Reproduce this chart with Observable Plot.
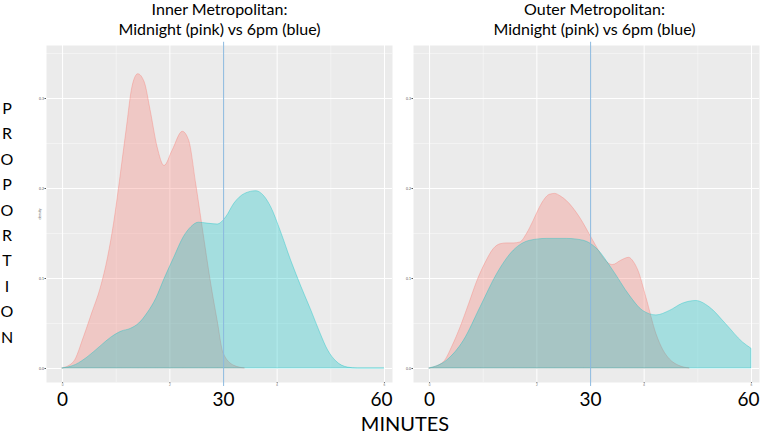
<!DOCTYPE html>
<html><head><meta charset="utf-8">
<script src="https://cdn.jsdelivr.net/npm/d3@7"></script>
<script src="https://cdn.jsdelivr.net/npm/@observablehq/plot@0.6"></script>
<style>
html,body{margin:0;padding:0;background:#fff;}
#wrap{position:relative;width:761px;height:434px;overflow:hidden;font-family:Lato,"Open Sans",sans-serif;}
#ylab{position:absolute;left:0;top:95px;width:14px;text-align:center;font-size:16px;line-height:25.4px;color:#000;}
#xlab{position:absolute;left:305px;top:412px;width:200px;text-align:center;font-size:20px;line-height:22px;color:#000;}
</style></head><body>
<div id="wrap"><div id="chart"></div><div id="ylab"></div><div id="xlab"></div></div>
<script>
// ---- data (minutes, density) ----
const panels = ["Inner Metropolitan", "Outer Metropolitan"];
const panelTitles = ["Inner Metropolitan:\nMidnight (pink) vs 6pm (blue)", "Outer Metropolitan:\nMidnight (pink) vs 6pm (blue)"];
const seriesNames = ["Midnight", "6pm"];
const seriesColors = ["#F8766D", "#00BFC4"];
const markerColor = "#8ab8de";

const innerMidnightMin = [0, 2.1, 4, 5.5, 7.1, 8.5, 9.6, 10.8, 12, 13, 14.1, 15.3, 16.4, 17.7, 19, 20.5, 22.4, 23.6, 24.9, 26.1, 27.7, 28.9, 30, 32, 34];
const innerMidnightDen = [0, 0.007, 0.035, 0.061, 0.089, 0.124, 0.161, 0.213, 0.268, 0.312, 0.327, 0.318, 0.287, 0.246, 0.225, 0.242, 0.263, 0.253, 0.205, 0.157, 0.094, 0.053, 0.017, 0.003, 0];

const innerEveningMin = [0, 2.5, 4.6, 7, 9, 11, 12.7, 14.3, 15.8, 17.5, 18.9, 20.8, 22.6, 24, 25.4, 27, 28.9, 30.5, 32, 34, 36.1, 37.5, 38.9, 40.7, 42.6, 44.5, 46.4, 48, 49.5, 51, 53.2, 55, 60];
const innerEveningDen = [0, 0.004, 0.012, 0.024, 0.034, 0.041, 0.044, 0.05, 0.061, 0.078, 0.098, 0.123, 0.146, 0.157, 0.162, 0.161, 0.16, 0.168, 0.183, 0.194, 0.197, 0.192, 0.179, 0.152, 0.12, 0.091, 0.064, 0.04, 0.02, 0.008, 0.001, 0, 0];

const outerMidnightMin = [0, 2.65, 4.3, 5.8, 7.4, 8.9, 10.5, 12, 13.2, 14.4, 15.7, 16.9, 18.2, 19.4, 20.5, 21.5, 22.4, 23.4, 24.5, 25.6, 28, 30.5, 32.4, 33.3, 34.2, 35.8, 37.2, 38.1, 38.9, 40.4, 42.3, 43.6, 44.8, 46.5, 48.5];
const outerMidnightDen = [0, 0.007, 0.025, 0.046, 0.072, 0.097, 0.118, 0.133, 0.138, 0.139, 0.139, 0.14, 0.15, 0.164, 0.178, 0.188, 0.193, 0.194, 0.191, 0.186, 0.168, 0.142, 0.123, 0.117, 0.115, 0.12, 0.123, 0.118, 0.109, 0.079, 0.038, 0.02, 0.01, 0.003, 0];

const outerEveningMin = [0, 3.3, 6.4, 9.5, 12.6, 15.7, 18.8, 21.9, 25.6, 28.7, 31.2, 34.2, 37.3, 39.8, 42.3, 44.8, 47.2, 49.7, 52.2, 55.3, 58.4, 60];
const outerEveningDen = [0, 0.009, 0.031, 0.068, 0.105, 0.131, 0.142, 0.144, 0.144, 0.142, 0.133, 0.109, 0.081, 0.064, 0.059, 0.064, 0.072, 0.075, 0.068, 0.049, 0.029, 0.022];

const markerMinute = [30];
const markerTop = 0.3625;
const markerBottom = -0.02;
const bigTicks = [0, 60];
const smallTicks = [0, 20, 40, 60];
const smallTickLabels = ["0", "2", "4", "6"];
const densityTicks = [0, 0.1, 0.2, 0.3];
const densityMinor = [0.05, 0.15, 0.25, 0.35];
const minuteMinor = [10, 30, 50];
const yAxisTitle = "PROPORTION";
const xAxisTitle = "MINUTES";

// ---- build table ----
function rows(panel, series, mins, dens) {
  const color = seriesColors[seriesNames.indexOf(series)];
  return mins.map((m, i) => ({panel, series, color, minute: m, density: dens[i]}));
}
const data = [
  ...rows(panels[0], seriesNames[0], innerMidnightMin, innerMidnightDen),
  ...rows(panels[0], seriesNames[1], innerEveningMin, innerEveningDen),
  ...rows(panels[1], seriesNames[0], outerMidnightMin, outerMidnightDen),
  ...rows(panels[1], seriesNames[1], outerEveningMin, outerEveningDen)
];
const titleRows = panels.map((p, i) => ({panel: p, title: panelTitles[i]}));
const markerRows = panels.map((p) => ({panel: p, minute: markerMinute[0], color: markerColor}));

const titleOpts = {fx: "panel", text: "title", frameAnchor: "top", lineAnchor: "bottom", dy: -11, fontSize: 16, lineHeight: 1.2, fill: "black"};
const bigLabelOpts = {facetAnchor: null, tickSize: 0, tickPadding: 10, fontSize: 19, fill: "black", label: null};

const chart = Plot.plot({
  width: 761,
  height: 412,
  marginLeft: 46,
  marginRight: 1,
  marginTop: 45,
  marginBottom: 30,
  style: {fontFamily: "Lato, 'Open Sans', sans-serif", background: "white", overflow: "visible"},
  fx: {domain: panels, paddingInner: 0.0571, paddingOuter: 0, round: true, axis: null},
  x: {domain: [-3, 61.5], axis: null},
  y: {domain: [-0.01556, 0.3589], axis: null},
  color: {type: "identity"},
  marks: [
    Plot.frame({fill: "#ebebeb", stroke: null}),
    Plot.gridY(densityMinor, {stroke: "white", strokeOpacity: 0.8, strokeWidth: 0.5}),
    Plot.gridX(minuteMinor, {stroke: "white", strokeOpacity: 0.8, strokeWidth: 0.5}),
    Plot.gridY(densityTicks, {stroke: "white", strokeOpacity: 1, strokeWidth: 1}),
    Plot.gridX(smallTicks, {stroke: "white", strokeOpacity: 1, strokeWidth: 1}),
    Plot.areaY(data, {x: "minute", y1: 0, y2: "density", fx: "panel", z: "series", fill: "color", fillOpacity: 0.3, stroke: "color", strokeOpacity: 0.35, strokeWidth: 1, curve: "monotone-x"}),
    Plot.rect(markerRows, {x1: (d) => d.minute, x2: (d) => d.minute + 0.2, y1: markerTop, y2: markerBottom, fx: "panel", fill: "color", fillOpacity: 0.9}),
    Plot.axisY(densityTicks, {facetAnchor: null, tickFormat: d3.format(".1f"), fontSize: 3.5, tickSize: 1.5, tickPadding: 1, stroke: "#555", fill: "#555", label: "density", labelAnchor: "center", labelArrow: "none", labelOffset: 8}),
    Plot.axisX(smallTicks, {facetAnchor: null, tickFormat: (d, i) => smallTickLabels[i], fontSize: 3, tickSize: 1, tickPadding: 0.5, stroke: "#777", fill: "#777", label: null}),
    Plot.axisX(bigTicks.slice(0, 1), {...bigLabelOpts}),
    Plot.axisX(markerMinute, {...bigLabelOpts}),
    Plot.axisX(bigTicks.slice(1), {...bigLabelOpts, dx: -3}),
    Plot.text(titleRows.slice(0, 1), {...titleOpts, dx: 0}),
    Plot.text(titleRows.slice(1, 2), {...titleOpts, dx: 8})
  ]
});
document.getElementById("chart").appendChild(chart);
document.getElementById("ylab").innerHTML = yAxisTitle.split("").join("<br>");
document.getElementById("xlab").textContent = xAxisTitle;
</script>
</body></html>
